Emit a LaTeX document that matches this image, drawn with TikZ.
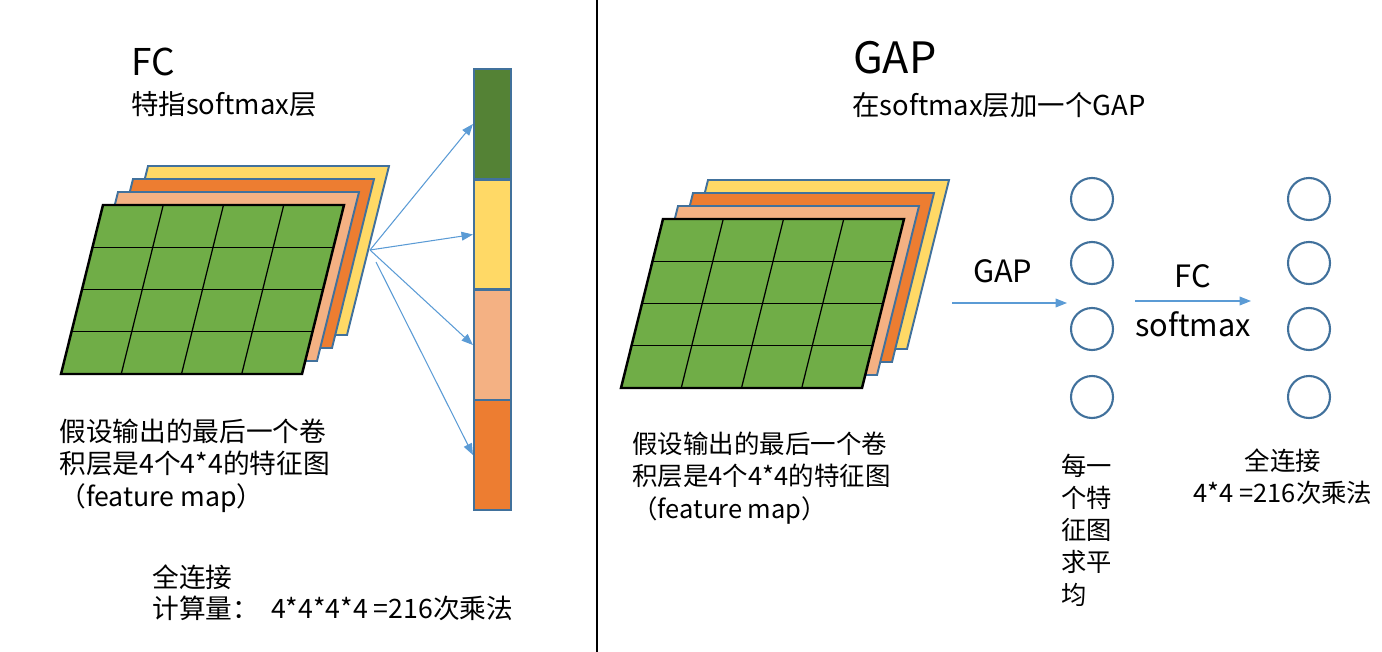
\documentclass[tikz,border=0pt]{standalone}
\usepackage{fontspec}
\setmainfont{Noto Sans CJK SC}
\usetikzlibrary{arrows.meta}

\definecolor{fmgreen}{HTML}{70AD47}
\definecolor{fmpeach}{HTML}{F4B183}
\definecolor{fmorange}{HTML}{ED7D31}
\definecolor{fmyellow}{HTML}{FFD966}
\definecolor{colgreen}{HTML}{548235}
\definecolor{edgeblue}{HTML}{41719C}
\definecolor{arrowblue}{HTML}{5B9BD5}

\tikzset{
  layer/.style={draw=edgeblue, line width=1.1pt},
  toplayer/.style={draw=black, fill=fmgreen, line width=1.4pt},
  gridline/.style={black, line width=0.7pt},
  cell/.style={draw=edgeblue, line width=1.2pt, minimum width=0.74cm, minimum height=2.2cm, inner sep=0pt},
  neuron/.style={circle, draw=edgeblue, line width=1.2pt, minimum size=0.84cm, inner sep=0pt},
  bluearrow/.style={draw=arrowblue, line width=0.6pt, -{Triangle[length=6.5pt, width=5pt]}},
  txt/.style={inner sep=0pt, anchor=west, align=left}
}

% four 4x4 feature maps, #1 = top left corner of the green one
\newcommand{\featstack}[1]{%
  \begin{scope}[shift={#1}]
    \foreach \col/\k in {fmyellow/3, fmorange/2, fmpeach/1}
      \draw[layer, fill=\col] (15*\k,-13*\k) -- ++(241,0) -- ++(-42,169) -- ++(-241,0) -- cycle;
    \draw[toplayer] (0,0) -- (241,0) -- (199,169) -- (-42,169) -- cycle;
    \foreach \t in {1,2,3} {
      \draw[gridline] (-10.5*\t,42.25*\t) -- (241-10.5*\t,42.25*\t);
      \draw[gridline] (60.25*\t,0) -- (60.25*\t-42,169);
    }
  \end{scope}}

\begin{document}
\begin{tikzpicture}[x=0.02cm, y=-0.02cm]
    \useasboundingbox (0,0) rectangle (1382,652);

    % divider
    \draw[line width=0.7pt] (597,0) -- (597,652);

    % ---------------- FC side ----------------
    \node[txt, font=\fontsize{21pt}{24pt}\selectfont] (fctitle) at (131,62) {FC};
    \node[txt, font=\fontsize{15.6pt}{18pt}\selectfont] (fcsub) at (131,104) {特指softmax层};

    \featstack{(103,205)}

    % output column
    \node[cell, fill=colgreen] (cell1) at (492.5,124) {};
    \node[cell, fill=fmyellow] (cell2) at (492.5,234.5) {};
    \node[cell, fill=fmpeach]  (cell3) at (492.5,345) {};
    \node[cell, fill=fmorange] (cell4) at (492.5,455) {};

    \coordinate (fcsrc) at (370,250);
    \coordinate (fcsrcb) at (376,262);
    \draw[bluearrow] (fcsrc) -- (cell1.west);
    \draw[bluearrow] (fcsrc) -- (cell2.west);
    \draw[bluearrow] (fcsrc) -- (cell3.west);
    \draw[bluearrow] (fcsrcb) -- (cell4.west);

    \node[txt, font=\fontsize{15.2pt}{18.4pt}\selectfont] (fcnote) at (59,465.5)
      {假设输出的最后一个卷\\积层是4个4*4的特征图\\（feature map）};
    \node[txt, font=\fontsize{15.2pt}{17.6pt}\selectfont] (fccost) at (152,592.5)
      {全连接\\计算量：\ \ 4*4*4*4 =216次乘法};

    % ---------------- GAP side ----------------
    \node[txt, font=\fontsize{24.6pt}{27pt}\selectfont] (gaptitle) at (853,58) {GAP};
    \node[txt, font=\fontsize{15.6pt}{18pt}\selectfont] (gapsub) at (852,105) {在softmax层加一个GAP};

    \featstack{(663,219)}

    % neurons
    \foreach \i/\y in {1/199, 2/263, 3/329, 4/397} {
      \node[neuron] (gap\i) at (1092,\y) {};
      \node[neuron] (out\i) at (1309,\y) {};
    }

    \coordinate (gapsrc) at (952,303);
    \coordinate (gapdst) at (1067,303);
    \draw[bluearrow] (gapsrc) -- node[pos=0.44, above=11pt, inner sep=0pt,
      font=\fontsize{17.5pt}{20pt}\selectfont] {GAP} (gapdst);

    \coordinate (fcin) at (1135,301);
    \coordinate (fcout) at (1251,301);
    \draw[bluearrow] (fcin) -- node[above=7pt, inner sep=0pt,
      font=\fontsize{17.5pt}{20pt}\selectfont] {FC}
      node[below=6pt, inner sep=0pt, font=\fontsize{17.5pt}{20pt}\selectfont] {softmax} (fcout);

    \node[txt, font=\fontsize{14.5pt}{18.4pt}\selectfont] (gapnote) at (632,478)
      {假设输出的最后一个卷\\积层是4个4*4的特征图\\（feature map）};
    \node[txt, font=\fontsize{14.4pt}{18.4pt}\selectfont] (avgnote) at (1061,530)
      {每一\\个特\\征图\\求平\\均};
    \node[inner sep=0pt, align=center, font=\fontsize{14.5pt}{18pt}\selectfont] (outcost) at (1283,477)
      {全连接\\4*4 =216次乘法};
\end{tikzpicture}
\end{document}
